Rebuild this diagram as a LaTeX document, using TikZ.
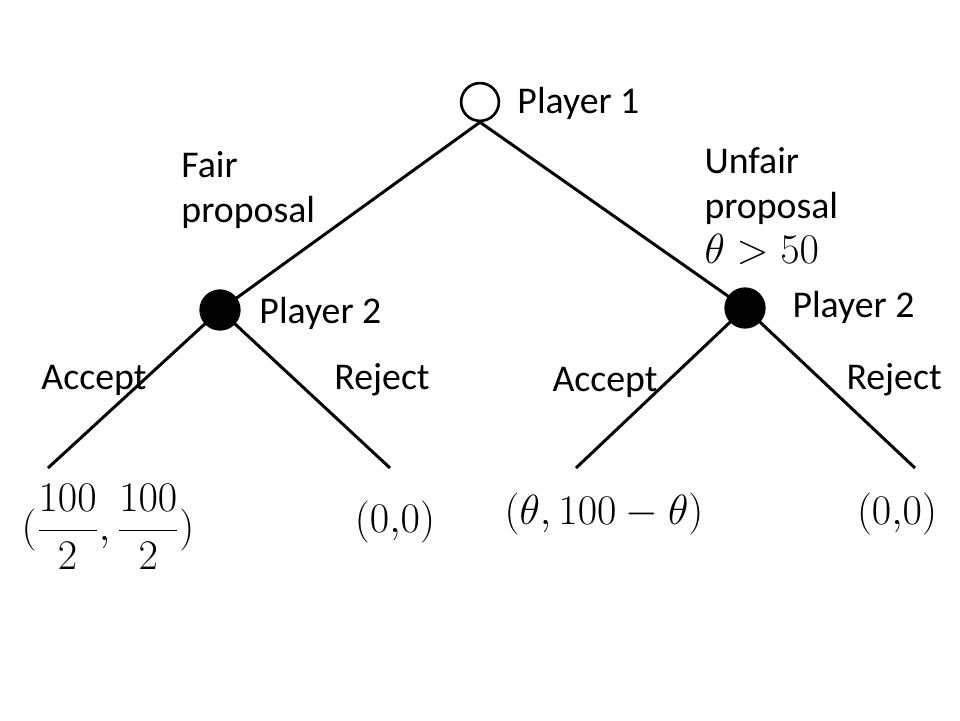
\RequirePackage{fix-cm}
\documentclass[tikz,border=0pt]{standalone}
\usepackage{fontspec}
\setmainfont{Carlito}
\begin{document}
\begin{tikzpicture}[x=0.02cm,y=-0.02cm,line width=1.7pt,
  font=\fontsize{21.5}{25.5}\selectfont,
  txt/.style={anchor=west,inner sep=0pt,align=left},
  pay/.style={inner sep=0pt,font=\fontsize{24}{29}\selectfont}]
\useasboundingbox (0,0) rectangle (960,720);
%players
\node[draw,circle,minimum size=21.5pt,inner sep=0pt,line width=1.5pt] (p1) at (480,102) {};
\node[fill,circle,minimum size=23.5pt,inner sep=0pt] (p2l) at (220,310) {};
\node[fill,circle,minimum size=23.5pt,inner sep=0pt] (p2r) at (745,308) {};
\coordinate (la) at (48,468);
\coordinate (lr) at (390,468);
\coordinate (ra) at (576,468);
\coordinate (rr) at (915,468);
%edges
\draw (p1.south) -- (p2l.center);
\draw (p1.south) -- (p2r.center);
\draw (p2l.center) -- (la);
\draw (p2l.center) -- (lr);
\draw (p2r.center) -- (ra);
\draw (p2r.center) -- (rr);
%labels
\node[txt] (n1) at (516,103) {Player 1};
\node[txt] (n2l) at (258,313) {Player 2};
\node[txt] (n2r) at (791,307) {Player 2};
\node[txt] (fair) at (180,190) {Fair\\proposal};
\node[txt] (unfair) at (703,206) {Unfair\\proposal\\{\fontsize{24}{25.5}\selectfont$\theta>50$}};
\node[txt] (acl) at (40,380) {Accept};
\node[txt] (rjl) at (333,380) {Reject};
\node[txt] (acr) at (551,382) {Accept};
\node[txt] (rjr) at (845,380) {Reject};
%payoffs
\node[pay] (u1) at (108,527) {$(\displaystyle\frac{100}{2},\displaystyle\frac{100}{2})$};
\node[pay] (u2) at (395,522) {$(0{,}0)$};
\node[pay] (u3) at (604,514) {$(\theta,100-\theta)$};
\node[pay] (u4) at (897,514) {$(0{,}0)$};
\end{tikzpicture}
\end{document}
